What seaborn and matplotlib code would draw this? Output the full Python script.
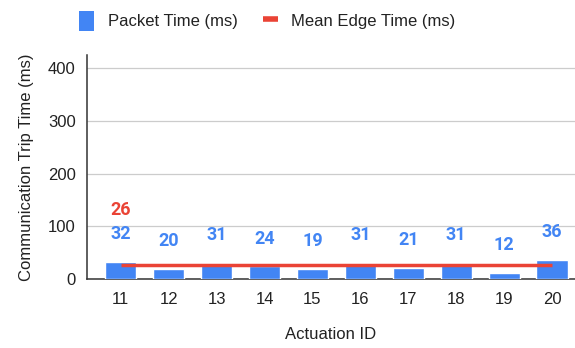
import numpy as np
import pandas as pd
import matplotlib
matplotlib.use('Agg')
import matplotlib.pyplot as plt
import seaborn as sns
from matplotlib.lines import Line2D
from matplotlib.patches import Patch

actuation_ids = ['11', '12', '13', '14', '15', '16', '17', '18', '19', '20']
packet_time = [32, 20, 31, 24, 19, 31, 21, 31, 12, 36]
mean_edge_time = 26

blue = '#4285F4'
red = '#EA4335'

sns.set_style('white')
plt.rcParams['font.family'] = ['Liberation Sans', 'DejaVu Sans']

df = pd.DataFrame({'id': actuation_ids, 'time': packet_time})

fig = plt.figure(figsize=(5.75, 3.48), dpi=100)
ax = fig.add_axes([0.151, 0.198, 0.849, 0.644])

sns.barplot(data=df, x='id', y='time', color=blue, width=0.65,
            saturation=1, ax=ax, zorder=3)

ax.plot([0, len(actuation_ids) - 1], [mean_edge_time, mean_edge_time],
        color=red, lw=2.5, zorder=4, solid_capstyle='butt')

for i, v in enumerate(packet_time):
    ax.annotate(str(v), (i, v), xytext=(0, 20), textcoords='offset points',
                ha='center', va='center', color=blue, fontsize=13,
                fontweight='bold', family='Roboto')
ax.annotate(str(mean_edge_time), (0, mean_edge_time), xytext=(0, 40),
            textcoords='offset points', ha='center', va='center', color=red,
            fontsize=13, fontweight='bold', family='Roboto')

ax.set_ylim(0, 425)
ax.set_xlim(-0.71, 9.48)
ax.set_yticks([0, 100, 200, 300, 400])
ax.yaxis.grid(True, color='#cccccc', lw=0.9, zorder=0)
ax.set_axisbelow(True)
for s in ['top', 'right']:
    ax.spines[s].set_visible(False)
for s in ['left', 'bottom']:
    ax.spines[s].set_color('#333333')
    ax.spines[s].set_linewidth(1.1)
ax.tick_params(axis='both', length=0, labelsize=12, colors='#222222')
ax.tick_params(axis='x', pad=9)
ax.tick_params(axis='y', pad=8)
ax.set_xlabel('Actuation ID', fontsize=12, color='#222222', labelpad=15)
ax.set_ylabel('Communication Trip Time (ms)', fontsize=12, color='#222222',
              labelpad=10)

handles = [Patch(facecolor=blue, edgecolor='none'),
           Line2D([0], [0], color=red, lw=4, solid_capstyle='butt')]
fig.legend(handles, ['Packet Time (ms)', 'Mean Edge Time (ms)'],
           loc='center', bbox_to_anchor=(0.465, 0.94), ncol=2, frameon=False,
           fontsize=12, handlelength=0.9, handleheight=1.4,
           columnspacing=1.5, handletextpad=0.8, labelcolor='#222222')

fig.savefig('out.png', dpi=100)
